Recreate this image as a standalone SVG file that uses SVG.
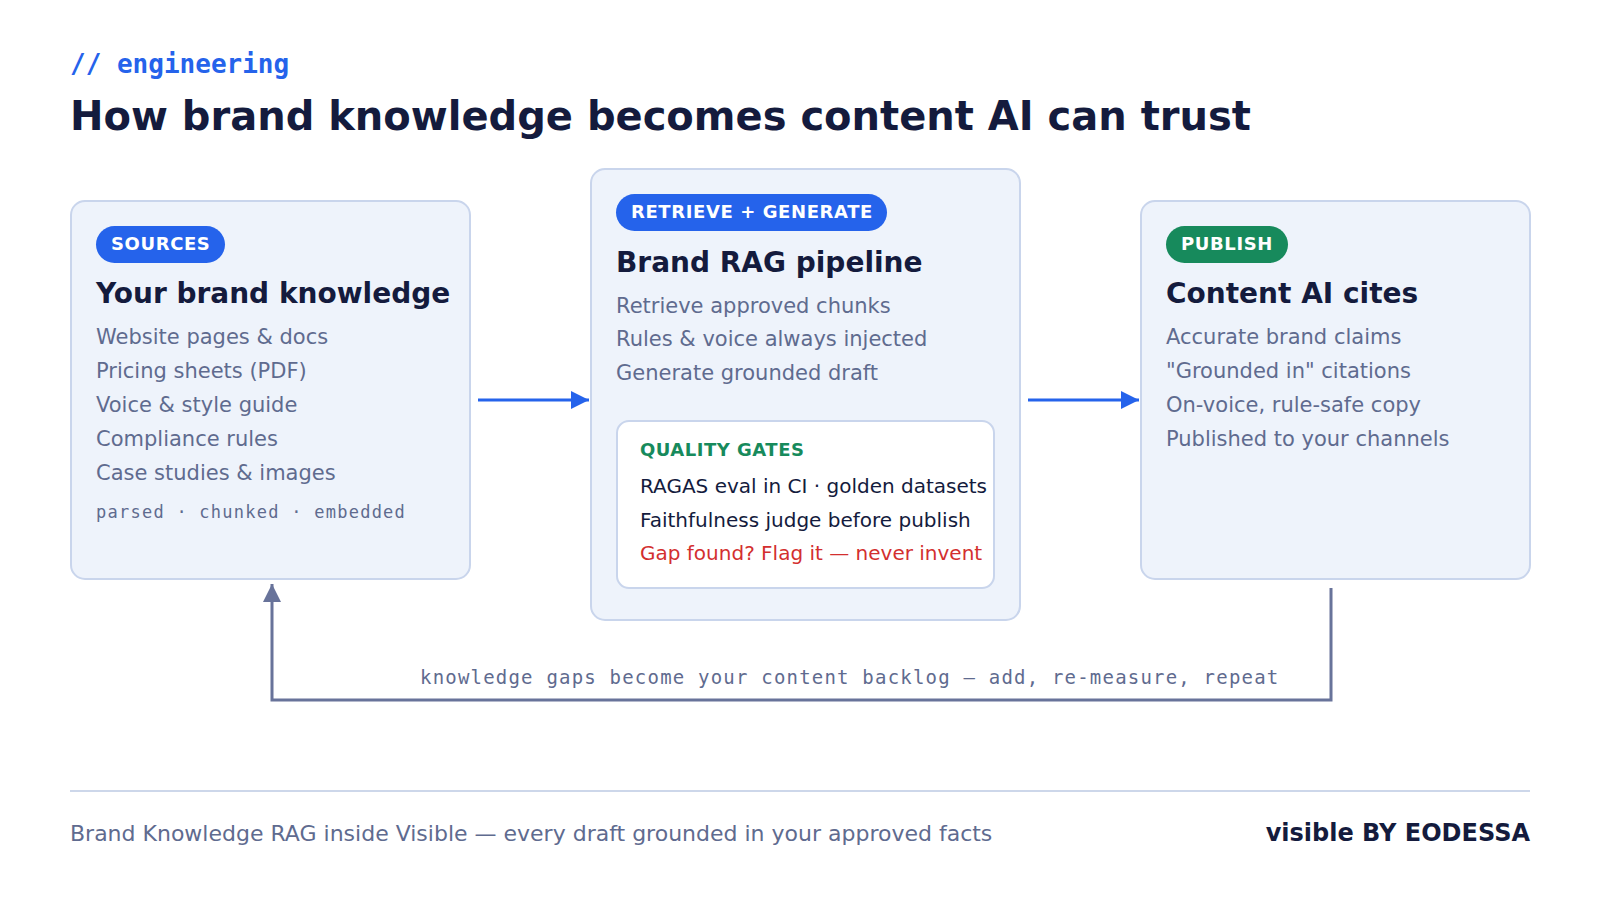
<svg xmlns="http://www.w3.org/2000/svg" width="1600" height="900" viewBox="0 0 1600 900">
<style>
.box{fill:#eef3fb;stroke:#c9d5ec;stroke-width:2}
.pill-t{font-family:"DejaVu Sans",Verdana,sans-serif;font-weight:bold;font-size:18px;fill:#ffffff;letter-spacing:0.6px}
.title{font-family:"DejaVu Sans",Verdana,sans-serif;font-weight:bold;font-size:28px;fill:#141b3d}
.body{font-family:"DejaVu Sans",Verdana,sans-serif;font-size:21px;fill:#5f6b8f}
.dark{font-family:"DejaVu Sans",Verdana,sans-serif;font-size:20px;fill:#141b3d}
.mono{font-family:"DejaVu Sans Mono","Liberation Mono",monospace}
</style>
<defs>
<marker id="ab" viewBox="0 0 10 10" refX="10" refY="5" markerWidth="6" markerHeight="6" orient="auto" markerUnits="strokeWidth"><path d="M0,0 L10,5 L0,10 z" fill="#2563eb"/></marker>
<marker id="ag" viewBox="0 0 10 10" refX="10" refY="5" markerWidth="6" markerHeight="6" orient="auto" markerUnits="strokeWidth"><path d="M0,0 L10,5 L0,10 z" fill="#68739a"/></marker>
</defs>
<rect width="1600" height="900" fill="#ffffff"/>

<text x="70" y="73" class="mono" font-weight="bold" font-size="26" fill="#2563eb">// engineering</text>
<text x="70" y="130" font-family="DejaVu Sans,Verdana,sans-serif" font-weight="bold" font-size="40" fill="#141b3d">How brand knowledge becomes content AI can trust</text>

<g id="sources">
<rect class="box" x="71" y="201" width="399" height="378" rx="14"/>
<rect x="96" y="226" width="129" height="37" rx="18.5" fill="#2563eb"/>
<text x="111" y="250" class="pill-t">SOURCES</text>
<text x="96" y="303" class="title">Your brand knowledge</text>
<text x="96" y="344" class="body">Website pages &amp; docs</text>
<text x="96" y="378" class="body">Pricing sheets (PDF)</text>
<text x="96" y="412" class="body">Voice &amp; style guide</text>
<text x="96" y="446" class="body">Compliance rules</text>
<text x="96" y="480" class="body">Case studies &amp; images</text>
<text x="96" y="518" class="mono" font-size="17" letter-spacing="1.25" fill="#5f6b8f">parsed · chunked · embedded</text>
</g>

<g id="pipeline">
<rect class="box" x="591" y="169" width="429" height="451" rx="14"/>
<rect x="616" y="194" width="271" height="37" rx="18.5" fill="#2563eb"/>
<text x="631" y="218" class="pill-t">RETRIEVE + GENERATE</text>
<text x="616" y="272" class="title">Brand RAG pipeline</text>
<text x="616" y="313" class="body">Retrieve approved chunks</text>
<text x="616" y="346" class="body">Rules &amp; voice always injected</text>
<text x="616" y="380" class="body">Generate grounded draft</text>
<g id="gates">
<rect x="617" y="421" width="377" height="167" rx="12" fill="#ffffff" stroke="#c9d5ec" stroke-width="2"/>
<text x="640" y="456" font-family="DejaVu Sans,Verdana,sans-serif" font-weight="bold" font-size="18" letter-spacing="0.5" fill="#178a5c">QUALITY GATES</text>
<text x="640" y="493" class="dark">RAGAS eval in CI · golden datasets</text>
<text x="640" y="527" class="dark">Faithfulness judge before publish</text>
<text x="640" y="560" font-family="DejaVu Sans,Verdana,sans-serif" font-size="20" fill="#d32f2f">Gap found? Flag it — never invent</text>
</g>
</g>

<g id="publish">
<rect class="box" x="1141" y="201" width="389" height="378" rx="14"/>
<rect x="1166" y="226" width="122" height="37" rx="18.5" fill="#178a5c"/>
<text x="1181" y="250" class="pill-t">PUBLISH</text>
<text x="1166" y="303" class="title">Content AI cites</text>
<text x="1166" y="344" class="body">Accurate brand claims</text>
<text x="1166" y="378" class="body">"Grounded in" citations</text>
<text x="1166" y="412" class="body">On-voice, rule-safe copy</text>
<text x="1166" y="446" class="body">Published to your channels</text>
</g>

<g id="connectors" fill="none">
<line x1="478" y1="400" x2="589" y2="400" stroke="#2563eb" stroke-width="3" marker-end="url(#ab)"/>
<line x1="1028" y1="400" x2="1139" y2="400" stroke="#2563eb" stroke-width="3" marker-end="url(#ab)"/>
<polyline points="1331,588 1331,700 272,700 272,584" stroke="#68739a" stroke-width="3" marker-end="url(#ag)"/>
<text x="420" y="684" class="mono" font-size="19" letter-spacing="1.2" fill="#5f6b8f" stroke="none">knowledge gaps become your content backlog — add, re-measure, repeat</text>
</g>

<line x1="70" y1="791" x2="1530" y2="791" stroke="#cdd7ea" stroke-width="2"/>
<text x="70" y="841" font-family="DejaVu Sans,Verdana,sans-serif" font-size="22" fill="#5f6b8f">Brand Knowledge RAG inside Visible — every draft grounded in your approved facts</text>
<text x="1530" y="841" text-anchor="end" font-family="DejaVu Sans,Verdana,sans-serif" font-weight="bold" font-size="24" fill="#141b3d">visible BY EODESSA</text>
</svg>
